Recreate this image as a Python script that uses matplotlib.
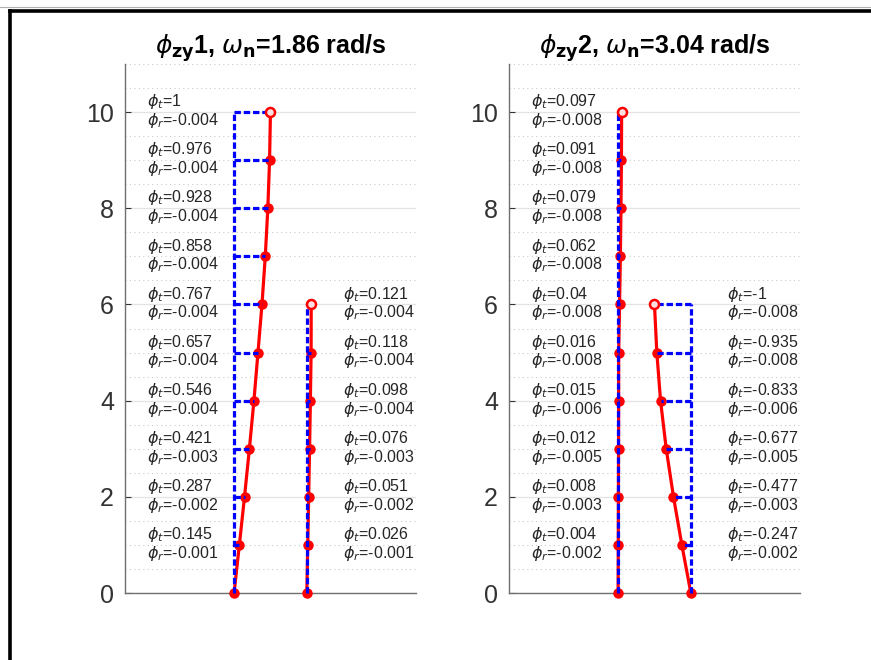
import numpy as np
import matplotlib.pyplot as plt
from matplotlib.lines import Line2D

plt.rcParams['font.family'] = ['Liberation Sans', 'DejaVu Sans']
plt.rcParams['mathtext.fontset'] = 'dejavusans'

# mode shapes of a two-column frame, one panel per mode
mode_titles = [r'$\phi_{\mathbf{zy}}$1, $\omega_{\mathbf{n}}$=1.86 rad/s',
               r'$\phi_{\mathbf{zy}}$2, $\omega_{\mathbf{n}}$=3.04 rad/s']

# column at x=0 (11 levels) and column at x=2 (7 levels)
col_x = [0, 2]

m1_left_t = [0, 0.145, 0.287, 0.421, 0.546, 0.657, 0.767, 0.858, 0.928, 0.976, 1]
m1_left_r = [-0.001, -0.002, -0.003, -0.004, -0.004, -0.004, -0.004, -0.004, -0.004, -0.004]
m1_right_t = [0, 0.026, 0.051, 0.076, 0.098, 0.118, 0.121]
m1_right_r = [-0.001, -0.002, -0.003, -0.004, -0.004, -0.004]

m2_left_t = [0, 0.004, 0.008, 0.012, 0.015, 0.016, 0.04, 0.062, 0.079, 0.091, 0.097]
m2_left_r = [-0.002, -0.003, -0.005, -0.006, -0.008, -0.008, -0.008, -0.008, -0.008, -0.008]
m2_right_t = [0, -0.247, -0.477, -0.677, -0.833, -0.935, -1]
m2_right_r = [-0.002, -0.003, -0.005, -0.006, -0.008, -0.008]

modes = [
    [(m1_left_t, m1_left_r), (m1_right_t, m1_right_r)],
    [(m2_left_t, m2_left_r), (m2_right_t, m2_right_r)],
]

yticks = [0, 2, 4, 6, 8, 10]

fig = plt.figure(figsize=(8.71, 6.6), dpi=100)
axes = [fig.add_axes([0.1435, 0.1015, 0.334, 0.8015]),
        fig.add_axes([0.5844, 0.1015, 0.334, 0.8015])]

txt_color = '#262626'
dash = (2.0, 0.9)

for ax, title, cols in zip(axes, mode_titles, modes):
    for ci, (phi_t, phi_r) in enumerate(cols):
        x0 = col_x[ci]
        lev = np.arange(len(phi_t))
        xs = x0 + np.array(phi_t)
        # deformed shape
        ax.plot(xs, lev, '-', color='#ff0000', lw=2.3, zorder=3,
                marker='o', ms=6.5, mfc='#ff0000', mec='#ff0000', clip_on=False)
        # undeformed column and floor offsets
        ax.plot([x0, x0], [0, lev[-1]], color='#0000ff', lw=2.3,
                ls=(0, dash), zorder=4, clip_on=False)
        for xv, yv in zip(xs[1:], lev[1:]):
            ax.plot([x0, xv], [yv, yv], color='#0000ff', lw=2.3,
                    ls=(0, dash), zorder=4)
        ax.plot(xs[-1], lev[-1], 'o', ms=6.5, mfc='#ffe0e0', mec='#ff0000',
                mew=1.8, zorder=5)
        # annotations
        tx = x0 - 2.4 if ci == 0 else x0 + 1.0
        for yv, t, r in zip(lev[1:], phi_t[1:], phi_r):
            ax.text(tx, yv + 0.02, f'$\\phi_t$={t:g}\n$\\phi_r$={r:g}',
                    fontsize=11.5, color=txt_color, ha='left', va='center',
                    linespacing=0.98, zorder=6)

    ax.set_xlim(-3, 5)
    ax.set_ylim(0, 11)
    ax.set_xticks([])
    ax.set_yticks(yticks)
    ax.set_yticks(np.arange(0, 11.01, 0.5), minor=True)
    ax.tick_params(axis='y', which='major', direction='in', length=4,
                   labelsize=18, colors='#333333', pad=8)
    ax.tick_params(axis='y', which='minor', length=0)
    ax.grid(True, which='major', axis='y', color='#e3e3e3', lw=0.9, zorder=0)
    ax.grid(True, which='minor', axis='y', color='#c9c9c9', lw=0.8,
            ls=(0, (1, 3)), zorder=0)
    for s in ['top', 'right']:
        ax.spines[s].set_visible(False)
    for s in ['left', 'bottom']:
        ax.spines[s].set_color('#707070')
        ax.spines[s].set_linewidth(1.0)
    ax.set_axisbelow(True)
    ax.set_title(title, fontsize=18, fontweight='bold', color='black', pad=5)

# frame edges at left and top of the capture
fig.add_artist(Line2D([10 / 871, 10 / 871], [0, 1 - 11 / 660],
                      transform=fig.transFigure, color='black', lw=2.6))
fig.add_artist(Line2D([10 / 871, 1], [1 - 11 / 660, 1 - 11 / 660],
                      transform=fig.transFigure, color='black', lw=2.6))
fig.add_artist(Line2D([0, 1], [1 - 7 / 660, 1 - 7 / 660],
                      transform=fig.transFigure, color='#b0b0b0', lw=0.8))

fig.savefig('out.png', dpi=100, facecolor='white')
